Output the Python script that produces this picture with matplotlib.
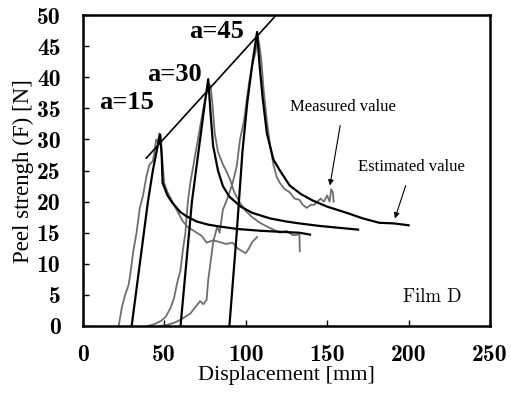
import matplotlib
matplotlib.use("Agg")
import matplotlib.pyplot as plt

# measured curves (gray)
m15_x = [22, 24, 26, 28, 29, 31, 33, 35, 37, 39, 41, 43, 44, 45, 46, 47, 48, 49, 50, 52, 55, 58,
         61, 64, 67, 70, 73, 76, 80, 84, 88, 92, 95, 98, 100, 102, 104, 107]
m15_y = [0, 3, 5, 6.5, 8, 12, 15, 19, 21, 24, 26, 26.5, 28, 30, 29.5, 31, 30, 26, 23, 21.5, 20, 18.5,
         17, 16, 15.5, 15, 14.5, 13.4, 13.8, 13.5, 13.2, 13.4, 12.5, 12, 11.7, 12.5, 13.5, 14.3]

m30_x = [40, 44, 48, 51, 54, 56, 58, 60, 61.5, 63, 64.5, 66, 68, 70, 72, 74, 76, 77.5, 78.5, 79.5,
         81, 83, 86, 88, 90.5, 93, 96.5, 100, 104, 108.7, 113, 117, 121, 125, 129, 133, 133.2]
m30_y = [0, 0.3, 0.8, 1.5, 3, 4.5, 7, 9, 12.3, 15, 20, 23, 26, 29, 32, 35, 37.5, 39, 38.5, 36,
         31, 28, 26, 25, 23.5, 21.5, 19.8, 18.5, 17.5, 16.6, 16, 15.5, 15, 15.3, 14.6, 14.7, 12]

m45_x = [47, 52, 56, 60, 63, 66, 69, 72, 74, 76, 77, 80, 82.5, 84, 86, 88.5, 92, 94.5, 96.5, 99,
         100.7, 102, 104, 106, 107.5, 108.5, 109.5, 111, 113, 115, 117, 119, 121, 124, 127, 130,
         133, 135, 137.5, 140, 142, 144, 146, 148, 150, 151.5, 152.5, 153.5, 154]
m45_y = [0, 0.2, 0.5, 1, 1.5, 2, 3, 4, 3.5, 4.2, 7.4, 13.4, 16, 15, 18.7, 20.3, 23, 25.7, 30, 33,
         36.5, 39, 42, 44, 46.5, 45, 43, 38, 33, 29, 26, 24, 23, 22, 21.5, 20.5,
         20.3, 19.5, 19, 19.5, 19.5, 20, 20.5, 20, 21, 20, 22, 21.5, 20]

# estimated curves (black)
e15_x = [30, 35, 40, 43, 46, 47.5, 48.5, 49, 52, 55, 60, 64, 70, 77, 84, 95, 110, 125, 133, 139.5]
e15_y = [0, 10, 20, 25, 29, 30.8, 27, 23, 21, 19.8, 18.3, 17.6, 16.8, 16.3, 16, 15.6, 15.3, 15.1, 15, 14.7]

e30_x = [60, 67, 72, 75, 77, 78.5, 80, 83, 86, 90, 97, 104, 115, 125, 133, 145, 157, 169]
e30_y = [0, 20, 30, 36, 39.7, 34, 29, 25, 22.5, 20.8, 19.2, 18.2, 17.3, 16.8, 16.5, 16.1, 15.8, 15.5]

e45_x = [90, 94.5, 98, 101, 104, 107, 108.5, 110.5, 113, 117, 121, 127, 134, 141, 150, 162, 172,
         182, 191, 200]
e45_y = [0, 15, 28, 36, 42, 47.3, 42, 36.5, 31, 26.8, 25, 22.6, 21.2, 20.2, 19.2, 18.2, 17.3,
         16.6, 16.5, 16.2]

peak_x = [39, 118]
peak_y = [27, 49.8]

fig = plt.figure(figsize=(5.11, 3.99), dpi=100)
ax = fig.add_axes([0.162, 0.183, 0.797, 0.779])

gray = "#6e6e6e"
for x, y in [(m15_x, m15_y), (m30_x, m30_y), (m45_x, m45_y)]:
    ax.plot(x, y, color=gray, lw=1.3)
for x, y in [(e15_x, e15_y), (e30_x, e30_y), (e45_x, e45_y)]:
    ax.plot(x, y, color="black", lw=1.6)
ax.plot(peak_x, peak_y, color="black", lw=1.2)

ax.set_xlim(0, 250)
ax.set_ylim(0, 50)
ax.set_xticks(range(0, 251, 50))
ax.set_yticks(range(0, 51, 5))
ax.tick_params(direction="in", length=4, width=1, labelsize=17)
ax.tick_params(axis="x", pad=13)
ax.tick_params(axis="y", pad=16)
for lab in ax.get_xticklabels() + ax.get_yticklabels():
    lab.set_fontfamily("cmb10")
for s in ax.spines.values():
    s.set_linewidth(1.8)

ax.set_xlabel("Displacement [mm]", fontsize=16, family="Liberation Serif", labelpad=0)
ax.set_ylabel("Peel strengh (F) [N]", fontsize=16.5, family="Liberation Serif", labelpad=2)

bold = dict(fontsize=19, fontweight="bold", family="Liberation Serif", ha="center", va="center")
ax.text(27, 36, "a=15", **bold)
ax.text(56.5, 40.5, "a=30", **bold)
ax.text(82, 47.3, "a=45", **bold)

small = dict(fontsize=12, family="Liberation Serif", ha="center", va="center")
ax.annotate("Measured value", xy=(151.7, 22.6), xytext=(160, 35.3), **small,
            arrowprops=dict(arrowstyle="-|>", color="black", lw=0.8, mutation_scale=8,
                            shrinkA=6, shrinkB=0))
ax.annotate("Estimated value", xy=(191.6, 17.3), xytext=(202, 25.6), **small,
            arrowprops=dict(arrowstyle="-|>", color="black", lw=0.8, mutation_scale=8,
                            shrinkA=6, shrinkB=0))
ax.text(214.5, 4.7, "Film D", fontsize=13.5, family="cmr10", ha="center", va="center")

fig.savefig("out.png", dpi=100)
